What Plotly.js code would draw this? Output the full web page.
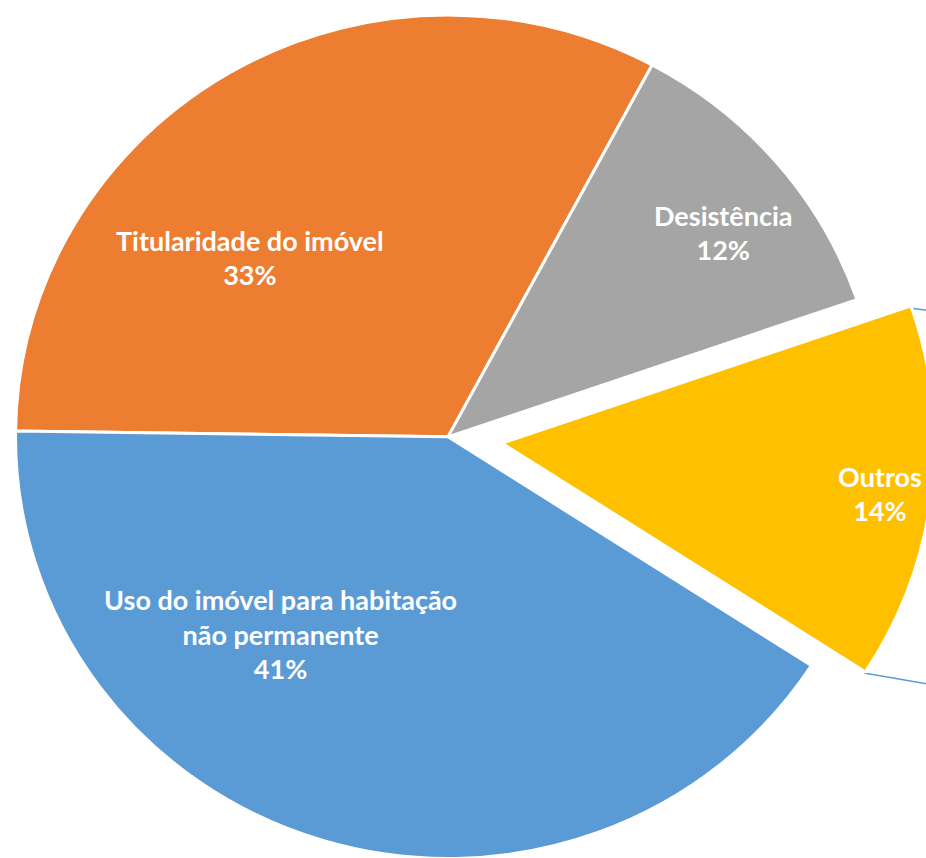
<!DOCTYPE html>
<html><head><meta charset="utf-8">
<script src="https://cdn.plot.ly/plotly-3.0.1.min.js"></script>
<style>
html,body{margin:0;padding:0;overflow:hidden;width:926px;height:858px;background:#fff}
#chart{position:absolute;left:-39px;top:-38px;width:974px;height:974px;transform-origin:0 0;transform:scaleY(0.975)}
</style>
</head><body><div id="chart"></div>
<script>
const categories = ['Titularidade do imóvel', 'Desistência', 'Outros', 'Uso do imóvel para habitação<br>não permanente'];
const values = [32.6, 11.9, 14.4, 41.1];
const pulls = [0, 0, 0.126, 0];
const colors = ['#ED7D31', '#A5A5A5', '#FFC000', '#5B9BD5'];

// layout helpers: page pixel -> paper fraction (div offset -39,-38, scaleY 0.975)
const LEFT = -39, TOP = -38, SIZE = 974, SY = 0.975;
const px = x => (x - LEFT) / SIZE;
const py = y => 1 - ((y - TOP) / SY) / SIZE;

// label centres on the page (pixels), layout only
const labelPos = [[250, 257], [723, 233], [880, 493], [280, 634]];

const total = values.reduce((a, b) => a + b, 0);
const annotations = categories.map((c, i) => ({
  xref: 'paper', yref: 'paper',
  x: px(labelPos[i][0]), y: py(labelPos[i][1]),
  xanchor: 'center', yanchor: 'middle',
  text: c + '<br>' + Math.round(values[i] / total * 100) + '%',
  showarrow: false,
  align: 'center',
  font: {family: 'Lato, sans-serif', size: 27, color: '#ffffff', weight: 'bold'}
}));

const trace = {
  type: 'pie',
  labels: categories,
  values: values,
  sort: false,
  direction: 'clockwise',
  rotation: 270.8,
  pull: pulls,
  marker: {colors: colors, line: {color: '#ffffff', width: 3}},
  textinfo: 'none',
  hoverinfo: 'none',
  automargin: false
};
const layout = {
  width: SIZE, height: SIZE,
  margin: {l: 0, r: 0, t: 0, b: 0},
  showlegend: false,
  paper_bgcolor: '#ffffff',
  annotations: annotations,
  shapes: [
    {type: 'line', layer: 'below', xref: 'paper', yref: 'paper', x0: px(909), y0: py(308), x1: px(940), y1: py(312), line: {color: '#5B9BD5', width: 1.5}},
    {type: 'line', layer: 'below', xref: 'paper', yref: 'paper', x0: px(864), y0: py(673), x1: px(940), y1: py(686), line: {color: '#5B9BD5', width: 1.5}}
  ]
};
Plotly.newPlot('chart', [trace], layout, {displayModeBar: false, staticPlot: true});
</script>
</body></html>
